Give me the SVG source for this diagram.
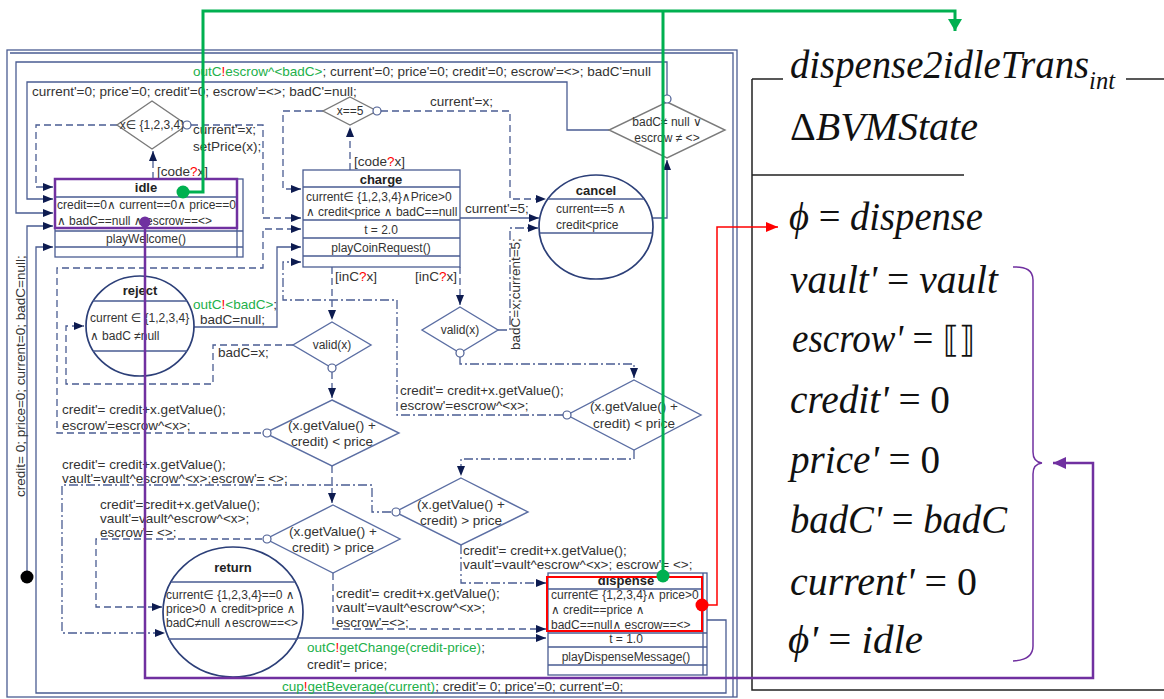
<svg xmlns="http://www.w3.org/2000/svg" width="1164" height="699" viewBox="0 0 1164 699">
<defs>
<style>
.ln{fill:none;stroke:#4a5c92;stroke-width:1.3}
.ds{stroke-dasharray:7 4}
.dd{stroke-dasharray:9 3 2 3}
.bx{fill:#fff;stroke:#4a5c92;stroke-width:1.3}
.cs{fill:#fff;stroke:#2c3f78;stroke-width:1.7}
.dm{fill:#fff;stroke:#5b6ea3;stroke-width:1.4}
.dg{fill:#fff;stroke:#7a7a7a;stroke-width:1.4}
.oc{fill:#fff;stroke:#4a5c92;stroke-width:1.2}
.t{font-family:"Liberation Sans",Arial,"DejaVu Sans",sans-serif;font-size:13.5px;fill:#333}
.b{font-size:12px}
.h{font-weight:bold;font-size:13px;text-anchor:middle;fill:#222}
.c{text-anchor:middle}
.g{fill:#22b04a}
.r{fill:#ff0000}
.m{font-family:"Liberation Serif","Times New Roman","DejaVu Serif",serif;font-style:italic;font-size:41px;fill:#111}
.u{font-style:normal}
.blk{fill:none;stroke:#222;stroke-width:1.5}
</style>
<marker id="a" viewBox="0 0 10 8" refX="10" refY="4" markerWidth="10" markerHeight="8" markerUnits="userSpaceOnUse" orient="auto"><path d="M0,0 L10,4 L0,8 z" fill="#0d1b50"/></marker>
<marker id="ag" viewBox="0 0 12 14" refX="12" refY="7" markerWidth="12" markerHeight="14" markerUnits="userSpaceOnUse" orient="auto"><path d="M0,0 L12,7 L0,14 z" fill="#00b050"/></marker>
<marker id="ar" viewBox="0 0 12 10" refX="12" refY="5" markerWidth="12" markerHeight="10" markerUnits="userSpaceOnUse" orient="auto"><path d="M0,0 L12,5 L0,10 z" fill="#ff0000"/></marker>
<marker id="ap" viewBox="0 0 13 12" refX="13" refY="6" markerWidth="13" markerHeight="12" markerUnits="userSpaceOnUse" orient="auto"><path d="M0,0 L13,6 L0,12 z" fill="#7030a0"/></marker>
</defs>
<rect width="1164" height="699" fill="#fff"/>

<g id="frame">
<rect x="7" y="50" width="730" height="647" class="ln"/>
<path d="M10,53 H733 V697" class="ln"/>
</g>

<g id="connectors">
<path d="M667,95 V62 H16 V213 H53" class="ln" marker-end="url(#a)"/>
<path d="M609,130 H567 V82 H27 V199 H53" class="ln" marker-end="url(#a)"/>
<path d="M650,218 H667 V160" class="ln" marker-end="url(#a)"/>
<path d="M153,179 V151" class="ln ds" marker-end="url(#a)"/>
<path d="M117,125 H36 V187 H53" class="ln ds" marker-end="url(#a)"/>
<path d="M191,125 H263 V218 H301" class="ln ds" marker-end="url(#a)"/>
<path d="M323,111 H283 V189 H301" class="ln ds" marker-end="url(#a)"/>
<path d="M350,170 V127" class="ln ds" marker-end="url(#a)"/>
<path d="M381,111 H510 V199 H546" class="ln ds" marker-end="url(#a)"/>
<path d="M460,218 H539" class="ln" marker-end="url(#a)"/>
<path d="M332,267 V320" class="ln ds" marker-end="url(#a)"/>
<path d="M460,267 V305" class="ln ds" marker-end="url(#a)"/>
<path d="M498,330 H510 V228 H538" class="ln dd" marker-end="url(#a)"/>
<path d="M460,357 V364 H634 V378" class="ln dd" marker-end="url(#a)"/>
<path d="M293,345 H213 V384 H66 V326 H84" class="ln ds" marker-end="url(#a)"/>
<path d="M194,327 H277 V247 H301" class="ln" marker-end="url(#a)"/>
<path d="M332,372 V398" class="ln ds" marker-end="url(#a)"/>
<path d="M261,433 H57 V268 H263 V229 H301" class="ln ds" marker-end="url(#a)"/>
<path d="M563,415 H397 V300 H283 V262 H301" class="ln dd" marker-end="url(#a)"/>
<path d="M332,466 V503" class="ln ds" marker-end="url(#a)"/>
<path d="M634,450 V459 H461 V476" class="ln dd" marker-end="url(#a)"/>
<path d="M391,512 H372 V485 H62 V633 H165" class="ln dd" marker-end="url(#a)"/>
<path d="M262,539 H96 V607 H162" class="ln ds" marker-end="url(#a)"/>
<path d="M333,573 V629 H546" class="ln ds" marker-end="url(#a)"/>
<path d="M461,545 V583 H546" class="ln dd" marker-end="url(#a)"/>
<path d="M296,638 H546" class="ln" marker-end="url(#a)"/>
<path d="M707,620 H726 V693 H36 V247 H53" class="ln" marker-end="url(#a)"/>
<path d="M27,577 V226 H53" class="ln" marker-end="url(#a)"/>
<circle cx="27" cy="577" r="6.5" fill="#000"/>
<g class="t">
<text x="193" y="76"><tspan class="g">outC</tspan><tspan class="r">!</tspan><tspan class="g">escrow^&lt;badC&gt;</tspan>; current'=0; price'=0; credit'=0; escrow'=&lt;&gt;; badC'=null</text>
<text x="32" y="96">current'=0; price'=0; credit'=0; escrow'=&lt;&gt;; badC'=null;</text>
<text x="157" y="176">[code<tspan class="r">?</tspan>x]</text>
<text x="193" y="134">current'=x;</text>
<text x="193" y="151">setPrice(x);</text>
<text x="354" y="166">[code<tspan class="r">?</tspan>x]</text>
<text x="430" y="106">current'=x;</text>
<text x="465" y="213">current'=5;</text>
<text x="335" y="281">[inC<tspan class="r">?</tspan>x]</text>
<text x="415" y="281">[inC<tspan class="r">?</tspan>x]</text>
<text transform="translate(520,350) rotate(-90)">badC=x;current=5;</text>
<text x="193" y="309"><tspan class="g">outC</tspan><tspan class="r">!</tspan><tspan class="g">&lt;badC&gt;</tspan>;</text>
<text x="200" y="324">badC=null;</text>
<text x="218" y="357">badC=x;</text>
<text x="62" y="414">credit'= credit+x.getValue();</text>
<text x="62" y="430">escrow'=escrow^&lt;x&gt;;</text>
<text x="400" y="395">credit'= credit+x.getValue();</text>
<text x="400" y="410">escrow'=escrow^&lt;x&gt;;</text>
<text x="62" y="469">credit'= credit+x.getValue();</text>
<text x="62" y="483">vault'=vault^escrow^&lt;x&gt;;escrow'= &lt;&gt;;</text>
<text x="100" y="509">credit'=credit+x.getValue();</text>
<text x="100" y="523">vault'=vault^escrow^&lt;x&gt;;</text>
<text x="100" y="537">escrow'= &lt;&gt;;</text>
<text x="463" y="555">credit'= credit+x.getValue();</text>
<text x="463" y="569">vault'=vault^escrow^&lt;x&gt;; escrow'= &lt;&gt;;</text>
<text x="336" y="598">credit'= credit+x.getValue();</text>
<text x="336" y="612">vault'=vault^escrow^&lt;x&gt;;</text>
<text x="336" y="627">escrow'=&lt;&gt;;</text>
<text x="307" y="652"><tspan class="g">outC</tspan><tspan class="r">!</tspan><tspan class="g">getChange(credit-price)</tspan>;</text>
<text x="307" y="669">credit'= price;</text>
<text x="282" y="691"><tspan class="g">cup</tspan><tspan class="r">!</tspan><tspan class="g">getBeverage(current)</tspan>;  credit'= 0; price'=0; current'=0;</text>
<text transform="translate(25,497) rotate(-90)">credit= 0; price=0; current=0; badC=null;</text>
</g>
</g>

<g id="idle">
<rect x="55" y="179" width="188" height="78" class="bx"/>
<path d="M237,179 V257 M55,197 H237 M55,231 H243 M55,247 H243" class="ln"/>
<text x="146" y="192" class="t h">idle</text>
<text x="57" y="209" class="t b" font-size="11.5">credit==0∧ current==0∧ price==0</text>
<text x="57" y="225" class="t b" font-size="11.5">∧ badC==null ∧ escrow==&lt;&gt;</text>
<text x="146" y="243" class="t b c">playWelcome()</text>
</g>

<g id="charge">
<rect x="303" y="170" width="157" height="97" class="bx"/>
<path d="M303,187 H460 M303,220 H460 M303,238 H460 M303,256 H460" class="ln"/>
<text x="381" y="184" class="t h">charge</text>
<text x="306" y="201" class="t b" font-size="11.5">current∈ {1,2,3,4}∧Price&gt;0</text>
<text x="306" y="216" class="t b" font-size="11.5">∧ credit&lt;price ∧ badC==null</text>
<text x="381" y="234" class="t b c">t = 2.0</text>
<text x="381" y="252" class="t b c">playCoinRequest()</text>
</g>

<g id="dispense">
<rect x="548" y="573" width="159" height="102" class="bx"/>
<path d="M703,573 V675 M548,589 H703 M548,633 H707 M548,647 H707 M548,665 H707" class="ln"/>
<text x="626" y="585" class="t h">dispense</text>
<text x="551" y="599" class="t b" font-size="11.5">current∈ {1,2,3,4}∧ price&gt;0</text>
<text x="551" y="614" class="t b" font-size="11.5">∧ credit==price ∧</text>
<text x="551" y="629" class="t b" font-size="11.5">badC==null∧ escrow==&lt;&gt;</text>
<text x="626" y="643" class="t b c">t = 1.0</text>
<text x="626" y="661" class="t b c">playDispenseMessage()</text>
</g>

<g id="cancel">
<ellipse cx="596" cy="227" rx="57" ry="52" class="cs"/>
<path d="M548,199 H644 M540,233 H652" class="ln"/>
<text x="596" y="195" class="t h">cancel</text>
<text x="556" y="213" class="t b">current==5 ∧</text>
<text x="556" y="229" class="t b">credit&lt;price</text>
</g>

<g id="reject">
<ellipse cx="140" cy="326" rx="54" ry="50" class="cs"/>
<path d="M93,301 H187 M93,351 H187" class="ln"/>
<text x="140" y="295" class="t h">reject</text>
<text x="90" y="322" class="t b">current ∈ {1,2,3,4}</text>
<text x="90" y="340" class="t b">∧ badC ≠null</text>
</g>

<g id="return">
<ellipse cx="233" cy="612" rx="70" ry="65" class="cs"/>
<path d="M171,582 H295 M168,639 H298" class="ln"/>
<text x="233" y="572" class="t h">return</text>
<text x="166" y="599" class="t b" font-size="11.5">current∈ {1,2,3,4}==0 ∧</text>
<text x="166" y="613" class="t b" font-size="11.5">price&gt;0 ∧ credit&gt;price ∧</text>
<text x="166" y="627" class="t b" font-size="11.5">badC≠null ∧escrow==&lt;&gt;</text>
</g>

<g id="d-code">
<path d="M152,101 L187,125 L152,149 L117,125 Z" class="dg"/>
<text x="152" y="129" class="t b c">x∈ {1,2,3,4}</text>
</g>
<g id="d-x5">
<path d="M350,97 L377,111 L350,125 L323,111 Z" class="dg"/>
<text x="350" y="115" class="t b c">x==5</text>
</g>
<g id="d-bad">
<path d="M667,102 L725,130 L667,158 L609,130 Z" class="dg"/>
<text x="667" y="126" class="t b c" font-size="11.5">badC≠ null ∨</text>
<text x="667" y="142" class="t b c" font-size="11.5">escrow ≠ &lt;&gt;</text>
</g>
<g id="d-valid1">
<path d="M332,322 L371,345 L332,368 L293,345 Z" class="dm"/>
<text x="332" y="349" class="t b c">valid(x)</text>
</g>
<g id="d-valid2">
<path d="M460,307 L498,330 L460,353 L422,330 Z" class="dm"/>
<text x="460" y="334" class="t b c">valid(x)</text>
</g>
<g id="d-lt1">
<path d="M332,400 L399,433 L332,466 L265,433 Z" class="dm"/>
<text x="332" y="430" class="t c">(x.getValue() +</text>
<text x="332" y="446" class="t c">credit) &lt; price</text>
</g>
<g id="d-lt2">
<path d="M634,380 L701,415 L634,450 L567,415 Z" class="dm"/>
<text x="634" y="411" class="t c">(x.getValue() +</text>
<text x="634" y="428" class="t c">credit) &lt; price</text>
</g>
<g id="d-gt2">
<path d="M461,478 L528,512 L461,545 L395,512 Z" class="dm"/>
<text x="461" y="509" class="t c">(x.getValue() +</text>
<text x="461" y="525" class="t c">credit) &gt; price</text>
</g>
<g id="d-gt1">
<path d="M333,505 L400,539 L333,573 L266,539 Z" class="dm"/>
<text x="333" y="536" class="t c">(x.getValue() +</text>
<text x="333" y="552" class="t c">credit) &gt; price</text>
</g>
<g id="branch-marks">
<circle cx="667" cy="99" r="4" class="oc"/>
<circle cx="187" cy="125" r="4" class="oc"/>
<circle cx="377" cy="111" r="4" class="oc"/>
<circle cx="460" cy="353" r="4" class="oc"/>
<circle cx="332" cy="368" r="4" class="oc"/>
<circle cx="267" cy="433" r="4" class="oc"/>
<circle cx="567" cy="415" r="4" class="oc"/>
<circle cx="396" cy="512" r="4" class="oc"/>
<circle cx="267" cy="539" r="4" class="oc"/>
</g>

<g id="schema">
<path d="M752,79 H783 M1126,79 H1164 M752,79 V690 H1164 M752,175 H964" class="blk"/>
<text x="790" y="78" class="m" textLength="325" lengthAdjust="spacingAndGlyphs">dispense2idleTrans<tspan font-size="26" dy="11">int</tspan></text>
<text x="790" y="140" class="m" textLength="188" lengthAdjust="spacingAndGlyphs"><tspan class="u">Δ</tspan>BVMState</text>
<text x="789" y="230" class="m" textLength="194" lengthAdjust="spacingAndGlyphs">ϕ <tspan class="u">=</tspan> dispense</text>
<text x="790" y="293" class="m" textLength="208" lengthAdjust="spacingAndGlyphs">vault' <tspan class="u">=</tspan> vault</text>
<text x="792" y="352" class="m" textLength="183" lengthAdjust="spacingAndGlyphs">escrow' <tspan class="u">=</tspan> <tspan class="u" font-size="36">⟦⟧</tspan></text>
<text x="790" y="413" class="m" textLength="160" lengthAdjust="spacingAndGlyphs">credit' <tspan class="u">= 0</tspan></text>
<text x="790" y="473" class="m" textLength="150" lengthAdjust="spacingAndGlyphs">price' <tspan class="u">= 0</tspan></text>
<text x="790" y="533" class="m" textLength="217" lengthAdjust="spacingAndGlyphs">badC' <tspan class="u">=</tspan> badC</text>
<text x="790" y="595" class="m" textLength="187" lengthAdjust="spacingAndGlyphs">current' <tspan class="u">= 0</tspan></text>
<text x="788" y="653" class="m" textLength="135" lengthAdjust="spacingAndGlyphs">ϕ' <tspan class="u">=</tspan> idle</text>
</g>

<g id="highlights">
<rect x="55" y="179" width="182" height="49" fill="none" stroke="#7030a0" stroke-width="2.5"/>
<rect x="547" y="577" width="155" height="54" fill="none" stroke="#ff0000" stroke-width="2"/>
<path d="M183,192 H203 V11 H955 V31" fill="none" stroke="#00b050" stroke-width="3" marker-end="url(#ag)"/>
<path d="M663,576 V11" fill="none" stroke="#00b050" stroke-width="3"/>
<circle cx="183" cy="192" r="6.5" fill="#00b050"/>
<circle cx="663" cy="576" r="6.5" fill="#00b050"/>
<path d="M702,605 H717 V227 H778" fill="none" stroke="#ff0000" stroke-width="1.5" marker-end="url(#ar)"/>
<circle cx="702" cy="605" r="6.5" fill="#ff0000"/>
<path d="M145,222 V678 H1093 V463 H1053" fill="none" stroke="#7030a0" stroke-width="2.5" marker-end="url(#ap)"/>
<circle cx="145" cy="222" r="5.5" fill="#7030a0"/>
<path d="M1013,267 Q1033,266 1033,280 V452 Q1033,462 1042,463 Q1033,464 1033,474 V646 Q1033,660 1013,661" fill="none" stroke="#7030a0" stroke-width="1.5"/>
</g>
</svg>
